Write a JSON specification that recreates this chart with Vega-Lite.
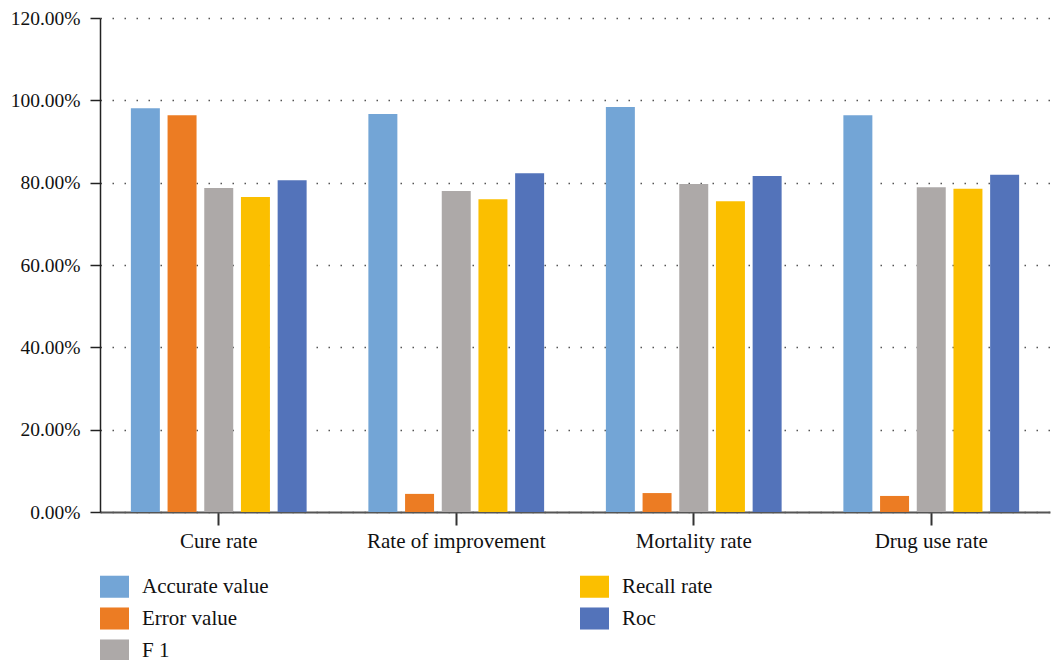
{
  "$schema": "https://vega.github.io/schema/vega-lite/v6.json",
  "width": 950,
  "height": 494,
  "autosize": "none",
  "padding": {"left": 100, "top": 18, "right": 1, "bottom": 148},
  "background": "white",
  "config": {
    "view": {"stroke": null},
    "font": "Liberation Serif",
    "axis": {"labelFont": "Liberation Serif", "labelColor": "#111", "title": null}
  },
  "data": {
    "values": [
      {"group": "Cure rate", "metric": "Accurate value", "value": 0.981},
      {"group": "Cure rate", "metric": "Error value", "value": 0.964},
      {"group": "Cure rate", "metric": "F 1", "value": 0.787},
      {"group": "Cure rate", "metric": "Recall rate", "value": 0.765},
      {"group": "Cure rate", "metric": "Roc", "value": 0.806},
      {"group": "Rate of improvement", "metric": "Accurate value", "value": 0.967},
      {"group": "Rate of improvement", "metric": "Error value", "value": 0.044},
      {"group": "Rate of improvement", "metric": "F 1", "value": 0.780},
      {"group": "Rate of improvement", "metric": "Recall rate", "value": 0.760},
      {"group": "Rate of improvement", "metric": "Roc", "value": 0.823},
      {"group": "Mortality rate", "metric": "Accurate value", "value": 0.984},
      {"group": "Mortality rate", "metric": "Error value", "value": 0.046},
      {"group": "Mortality rate", "metric": "F 1", "value": 0.797},
      {"group": "Mortality rate", "metric": "Recall rate", "value": 0.755},
      {"group": "Mortality rate", "metric": "Roc", "value": 0.816},
      {"group": "Drug use rate", "metric": "Accurate value", "value": 0.964},
      {"group": "Drug use rate", "metric": "Error value", "value": 0.039},
      {"group": "Drug use rate", "metric": "F 1", "value": 0.789},
      {"group": "Drug use rate", "metric": "Recall rate", "value": 0.785},
      {"group": "Drug use rate", "metric": "Roc", "value": 0.819}
    ]
  },
  "mark": {"type": "bar"},
  "encoding": {
    "x": {
      "field": "group",
      "type": "nominal",
      "sort": ["Cure rate", "Rate of improvement", "Mortality rate", "Drug use rate"],
      "scale": {"paddingInner": 0.26, "paddingOuter": 0.13},
      "axis": {
        "labelAngle": 0,
        "labelFontSize": 21,
        "labelPadding": 5,
        "tickSize": 13,
        "tickWidth": 2,
        "tickColor": "#333",
        "domainColor": "#555",
        "domainWidth": 2,
        "grid": false
      }
    },
    "xOffset": {
      "field": "metric",
      "type": "nominal",
      "sort": ["Accurate value", "Error value", "F 1", "Recall rate", "Roc"],
      "scale": {"paddingInner": 0.21, "paddingOuter": 0}
    },
    "y": {
      "field": "value",
      "type": "quantitative",
      "scale": {"domain": [0, 1.2], "nice": false},
      "axis": {
        "values": [0, 0.2, 0.4, 0.6, 0.8, 1.0, 1.2],
        "format": ".2%",
        "labelFontSize": 19.5,
        "labelPadding": 10,
        "tickSize": 10,
        "tickWidth": 1.5,
        "tickColor": "#222",
        "domainColor": "#222",
        "domainWidth": 1.5,
        "grid": true,
        "gridColor": "#555",
        "gridDash": [1.5, 10.5],
        "gridWidth": 1.5
      }
    },
    "color": {
      "field": "metric",
      "type": "nominal",
      "scale": {
        "domain": ["Accurate value", "Error value", "F 1", "Recall rate", "Roc"],
        "range": ["#73A5D6", "#EC7C23", "#ADA9A8", "#FBBF00", "#5373BA"]
      },
      "legend": {
        "title": null,
        "orient": "none",
        "legendX": 0,
        "legendY": 554,
        "direction": "vertical",
        "columns": 2,
        "columnPadding": 311,
        "rowPadding": 6,
        "symbolType": "M-1,-0.76L1,-0.76L1,0.76L-1,0.76Z",
        "symbolSize": 841,
        "symbolStrokeWidth": 0,
        "labelFont": "Liberation Serif",
        "labelFontSize": 21,
        "labelColor": "#111",
        "labelOffset": 13
      }
    }
  }
}
